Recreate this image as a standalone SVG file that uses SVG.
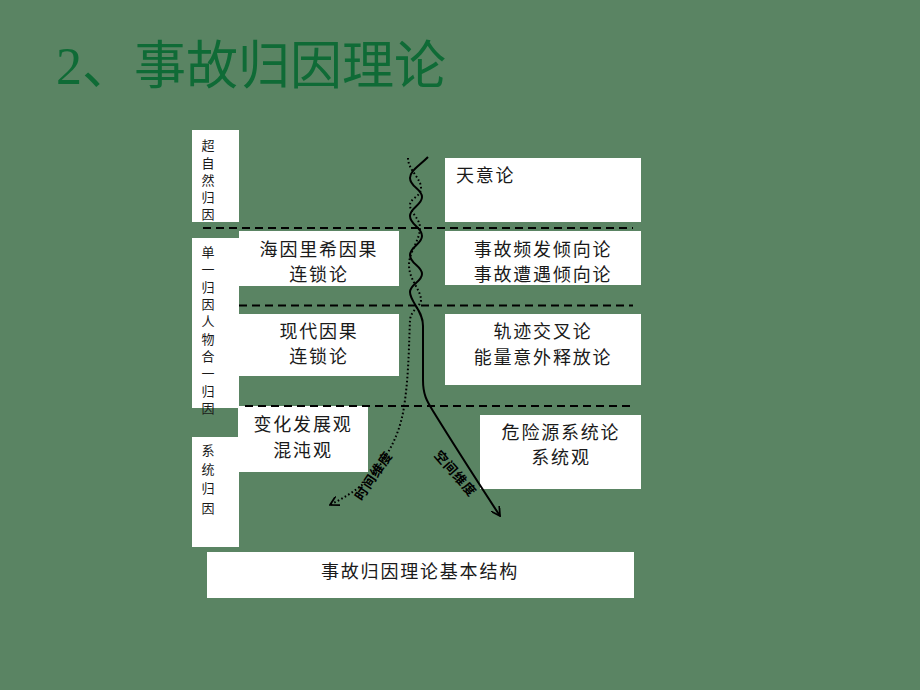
<svg xmlns="http://www.w3.org/2000/svg" width="920" height="690" viewBox="0 0 920 690">
<style>
.box{fill:#ffffff;}
.t{font-family:"Noto Sans CJK SC","Noto Sans",sans-serif;font-size:18px;fill:#1a1a1a;letter-spacing:1.8px;}
.c{text-anchor:middle;}
.v{font-family:"Noto Sans CJK SC","Noto Sans",sans-serif;font-size:13px;fill:#1a1a1a;text-anchor:middle;}
.dash{stroke:#000;stroke-width:2;stroke-dasharray:8 5;fill:none;}
.wave{stroke:#000;stroke-width:2;fill:none;}
.dot{stroke:#000;stroke-width:2;fill:none;stroke-dasharray:1.6 2.4;}
.lab{font-family:"Noto Sans CJK SC","Noto Sans",sans-serif;font-size:13px;font-weight:bold;fill:#000;text-anchor:middle;letter-spacing:1px;}
</style>
<defs>
<marker id="arr" viewBox="0 0 10 10" refX="9" refY="5" markerWidth="10" markerHeight="10" markerUnits="userSpaceOnUse" orient="auto">
<path d="M0,0 L9,5 L0,10" fill="none" stroke="#000" stroke-width="1.8"/>
</marker>
</defs>
<rect width="920" height="690" fill="#5a8463"/>
<text x="56" y="84" font-family="'Liberation Serif','Noto Sans CJK SC',serif" font-size="52" fill="#0f6b36">2、事故归因理论</text>

<g id="left-supernatural">
<rect class="box" x="192" y="130" width="47" height="92"/>
<text class="v" x="208" y="150">超</text>
<text class="v" x="208" y="168">自</text>
<text class="v" x="208" y="185">然</text>
<text class="v" x="208" y="202">归</text>
<text class="v" x="208" y="219">因</text>
</g>
<g id="left-single">
<rect class="box" x="192" y="238" width="47" height="170"/>
<text class="v" x="208" y="257">单</text>
<text class="v" x="208" y="274">一</text>
<text class="v" x="208" y="292">归</text>
<text class="v" x="208" y="309">因</text>
<text class="v" x="208" y="326">人</text>
<text class="v" x="208" y="344">物</text>
<text class="v" x="208" y="361">合</text>
<text class="v" x="208" y="378">一</text>
<text class="v" x="208" y="396">归</text>
<text class="v" x="208" y="413">因</text>
</g>
<g id="left-system">
<rect class="box" x="192" y="437" width="47" height="110"/>
<text class="v" x="208" y="455">系</text>
<text class="v" x="208" y="474">统</text>
<text class="v" x="208" y="493">归</text>
<text class="v" x="208" y="513">因</text>
</g>

<g id="heinrich">
<rect class="box" x="239" y="231" width="160" height="55"/>
<text class="t c" x="319" y="256">海因里希因果</text>
<text class="t c" x="319" y="281">连锁论</text>
</g>
<g id="modern">
<rect class="box" x="239" y="314" width="160" height="62"/>
<text class="t c" x="319" y="338">现代因果</text>
<text class="t c" x="319" y="363">连锁论</text>
</g>
<g id="change">
<rect class="box" x="238" y="406" width="130" height="66"/>
<text class="t c" x="303" y="431">变化发展观</text>
<text class="t c" x="303" y="457">混沌观</text>
</g>

<g id="tianyi">
<rect class="box" x="445" y="158" width="196" height="64"/>
<text class="t" x="456" y="182">天意论</text>
</g>
<g id="tendency">
<rect class="box" x="445" y="231" width="196" height="54"/>
<text class="t c" x="543" y="256">事故频发倾向论</text>
<text class="t c" x="543" y="281">事故遭遇倾向论</text>
</g>
<g id="trajectory">
<rect class="box" x="445" y="314" width="196" height="71"/>
<text class="t c" x="543" y="338">轨迹交叉论</text>
<text class="t c" x="543" y="364">能量意外释放论</text>
</g>
<g id="hazard">
<rect class="box" x="480" y="415" width="161" height="74"/>
<text class="t c" x="561" y="439">危险源系统论</text>
<text class="t c" x="561" y="464">系统观</text>
</g>
<g id="caption">
<rect class="box" x="207" y="552" width="427" height="46"/>
<text class="t c" x="420" y="578">事故归因理论基本结构</text>
</g>

<g id="connectors">
<line class="dash" x1="203" y1="228" x2="633" y2="228"/>
<line class="dash" x1="239" y1="305.5" x2="633" y2="305.5"/>
<line class="dash" x1="245" y1="406" x2="633" y2="406"/>
<path class="wave" marker-end="url(#arr)" d="M428,157 C418,167 410,171 410,178 C410,187 422,189 422,197 C422,205 410,208 410,216 C410,225 422,227 422,236 C422,244 410,247 410,255 C410,264 422,266 422,274 C422,282 410,284 410,292 C410,302 423,310 423,326 L423,380 C423,395 427,401 433,411 C446,432 470,470 500,516"/>
<path class="dot" marker-end="url(#arr)" d="M408,158 C408,170 421,178 421,188 C421,197 410,198 410,205 C410,213 420,218 420,228 C420,240 409,252 409,265 C409,280 421,290 421,300 C421,306 411,310 410,320 C409,340 409,370 405,400 C402,425 395,445 375,472 C362,488 345,497 330,505"/>
<text class="lab" transform="translate(374,476) rotate(-56)" y="4">时间维度</text>
<text class="lab" transform="translate(455,474) rotate(49)" y="4">空间维度</text>
</g>
</svg>
